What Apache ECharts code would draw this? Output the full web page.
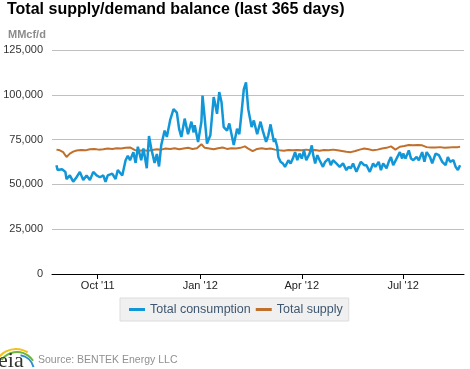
<!DOCTYPE html>
<html>
<head>
<meta charset="utf-8">
<script src="https://cdn.jsdelivr.net/npm/echarts@6/dist/echarts.min.js"></script>
<style>html,body{margin:0;padding:0;background:#fff}#c{width:470px;height:369px}</style>
</head>
<body>
<div id="c"></div>
<script>
const consDates = ['2011-08-25','2011-08-26','2011-08-30','2011-09-02','2011-09-03','2011-09-06','2011-09-09','2011-09-12','2011-09-15','2011-09-18','2011-09-21','2011-09-24','2011-09-27','2011-09-30','2011-10-03','2011-10-06','2011-10-08','2011-10-10','2011-10-14','2011-10-17','2011-10-19','2011-10-23','2011-10-26','2011-10-28','2011-10-30','2011-11-02','2011-11-04','2011-11-06','2011-11-09','2011-11-11','2011-11-14','2011-11-16','2011-11-18','2011-11-21','2011-11-23','2011-11-25','2011-11-27','2011-11-30','2011-12-02','2011-12-05','2011-12-08','2011-12-11','2011-12-13','2011-12-15','2011-12-18','2011-12-21','2011-12-24','2011-12-26','2011-12-27','2011-12-30','2012-01-02','2012-01-03','2012-01-05','2012-01-07','2012-01-10','2012-01-13','2012-01-14','2012-01-16','2012-01-18','2012-01-20','2012-01-22','2012-01-25','2012-01-27','2012-01-29','2012-01-31','2012-02-03','2012-02-05','2012-02-07','2012-02-09','2012-02-11','2012-02-13','2012-02-16','2012-02-18','2012-02-21','2012-02-24','2012-02-26','2012-02-29','2012-03-02','2012-03-04','2012-03-07','2012-03-08','2012-03-10','2012-03-11','2012-03-13','2012-03-15','2012-03-17','2012-03-20','2012-03-22','2012-03-24','2012-03-26','2012-03-28','2012-03-30','2012-04-01','2012-04-03','2012-04-05','2012-04-08','2012-04-10','2012-04-11','2012-04-13','2012-04-15','2012-04-17','2012-04-20','2012-04-22','2012-04-25','2012-04-27','2012-04-29','2012-05-02','2012-05-05','2012-05-08','2012-05-11','2012-05-13','2012-05-15','2012-05-17','2012-05-20','2012-05-22','2012-05-24','2012-05-27','2012-05-29','2012-06-01','2012-06-04','2012-06-06','2012-06-09','2012-06-11','2012-06-13','2012-06-16','2012-06-18','2012-06-20','2012-06-22','2012-06-25','2012-06-28','2012-06-30','2012-07-01','2012-07-03','2012-07-06','2012-07-08','2012-07-10','2012-07-13','2012-07-15','2012-07-18','2012-07-20','2012-07-22','2012-07-25','2012-07-27','2012-07-30','2012-08-02','2012-08-05','2012-08-08','2012-08-10','2012-08-12','2012-08-15','2012-08-17','2012-08-19','2012-08-21'];
const consValues = [60700,58000,58500,57000,53000,55000,51500,54000,57000,52400,55000,52400,57000,55000,54000,55000,51500,55000,56000,53000,58000,55000,63500,66000,63500,68000,62000,71000,63500,70000,59000,77000,70000,62000,67000,60000,72000,80000,76500,86000,92000,90000,81000,76500,86700,78000,85000,79000,83000,73700,85000,99600,86700,72800,77400,98700,96000,89400,101500,96000,82000,80000,84000,78000,72000,81000,78000,90000,103000,107000,92000,82000,85700,78000,85000,80000,73700,77400,83500,73700,75500,71000,65300,62600,61700,59800,63500,61700,64400,68000,63500,67200,64400,69000,63500,67200,71800,67200,61700,66300,63500,59800,62600,64400,60700,63500,61700,59800,61700,58000,59800,59000,61700,57000,59800,62600,60700,60700,57000,61700,59800,62600,58000,61700,59000,62600,65300,60700,64400,68000,64400,67200,64400,69000,64400,63500,65300,63500,68000,62600,68000,65300,61700,67200,66300,62600,60700,65300,62600,63500,59800,58000,60700];

const supplyDates = ['2011-08-25','2011-08-28','2011-08-31','2011-09-03','2011-09-06','2011-09-09','2011-09-12','2011-09-16','2011-09-20','2011-09-24','2011-09-28','2011-10-02','2011-10-06','2011-10-10','2011-10-14','2011-10-18','2011-10-22','2011-10-26','2011-10-30','2011-11-03','2011-11-07','2011-11-11','2011-11-15','2011-11-19','2011-11-23','2011-11-27','2011-12-01','2011-12-05','2011-12-09','2011-12-13','2011-12-17','2011-12-21','2011-12-25','2011-12-29','2012-01-02','2012-01-05','2012-01-09','2012-01-13','2012-01-17','2012-01-21','2012-01-25','2012-01-29','2012-02-02','2012-02-06','2012-02-10','2012-02-13','2012-02-17','2012-02-21','2012-02-25','2012-02-29','2012-03-04','2012-03-08','2012-03-12','2012-03-16','2012-03-20','2012-03-24','2012-03-28','2012-04-01','2012-04-05','2012-04-09','2012-04-13','2012-04-17','2012-04-21','2012-04-25','2012-04-29','2012-05-03','2012-05-07','2012-05-11','2012-05-15','2012-05-19','2012-05-23','2012-05-27','2012-05-31','2012-06-04','2012-06-08','2012-06-12','2012-06-16','2012-06-20','2012-06-24','2012-06-28','2012-07-02','2012-07-06','2012-07-10','2012-07-14','2012-07-18','2012-07-22','2012-07-26','2012-07-30','2012-08-03','2012-08-07','2012-08-11','2012-08-15','2012-08-19','2012-08-21'];
const supplyValues = [69400,69000,68000,65300,67200,68300,68900,69200,69000,69600,69800,69400,69600,70000,69800,70200,70000,70400,70600,69200,68800,69000,68800,69200,69600,69400,70000,69800,70200,69600,70000,70400,69800,70200,72400,70400,70000,69600,70200,70600,69800,70200,70000,70400,71200,70000,68600,69800,70200,69800,70000,69400,69000,68800,69200,69000,69200,69000,69400,69000,69200,68800,69200,69000,69400,69000,68600,68200,68000,68600,69400,70000,69600,69000,69400,70000,70400,71200,69400,71000,71400,72000,71800,72000,71800,70800,70600,70600,70800,70400,70600,70800,70800,71000];

const xTickDates = ['2011-10-01','2012-01-01','2012-04-01','2012-07-01'];
const xTickLabels = ["Oct '11","Jan '12","Apr '12","Jul '12"];
const yTicks = [0,25000,50000,75000,100000,125000];
const seriesNames = ['Total consumption','Total supply'];

function ts(s){const p=s.split('-').map(Number);return new Date(p[0],p[1]-1,p[2],p[3]||0).getTime();}
const tickTs = xTickDates.map(s=>ts(s));

const chart = echarts.init(document.getElementById('c'), null, {renderer:'canvas'});
const font = '"Liberation Sans", Arial, sans-serif';
chart.setOption({
  animation:false,
  backgroundColor:'#fff',
  textStyle:{fontFamily:font},
  title:[
    {text:'Total supply/demand balance (last 365 days)',left:7,top:2,padding:0,
     textStyle:{fontSize:16,fontWeight:'bold',color:'#000',fontFamily:font}},
    {text:'MMcf/d',left:8,top:29,padding:0,
     textStyle:{fontSize:11,fontWeight:'bold',color:'#8c8c8c',fontFamily:font}}
  ],
  grid:{left:52,right:6,top:50,bottom:95,containLabel:false},
  legend:{
    left:120,top:298,
    data:seriesNames,
    icon:'rect',itemWidth:16,itemHeight:3,itemGap:5,
    backgroundColor:'#f0f0f0',borderColor:'#dcdcdc',borderWidth:1,borderRadius:0,
    padding:[5,6,5,9],
    textStyle:{fontSize:12.5,color:'#3e576f',fontFamily:font}
  },
  xAxis:{
    type:'value',
    min:ts('2011-08-21'),max:ts('2012-08-24-12'),
    splitLine:{show:false},
    axisLine:{lineStyle:{color:'#000',width:1}},
    axisTick:{show:true,length:5,lineStyle:{color:'#000'},customValues:tickTs},
    axisLabel:{customValues:tickTs,margin:6,fontSize:11,color:'#222',fontFamily:font,
      formatter:function(v){const i=tickTs.indexOf(v);return i>=0?xTickLabels[i]:'';}}
  },
  yAxis:{
    type:'value',min:yTicks[0],max:yTicks[yTicks.length-1],interval:25000,
    axisLine:{show:false},axisTick:{show:false},
    splitLine:{lineStyle:{color:'#c0c0c0',width:1}},
    axisLabel:{fontSize:11,color:'#333',margin:9,fontFamily:font,
      formatter:function(v){return v.toLocaleString('en-US');}}
  },
  series:[
    {name:seriesNames[0],type:'line',showSymbol:false,symbol:'none',
     data:consDates.map((d,i)=>[ts(d),consValues[i]]),
     lineStyle:{color:'#1196d8',width:2.5},itemStyle:{color:'#1196d8'},z:3},
    {name:seriesNames[1],type:'line',showSymbol:false,symbol:'none',
     data:supplyDates.map((d,i)=>[ts(d),supplyValues[i]]),
     lineStyle:{color:'#c0702c',width:2},itemStyle:{color:'#c0702c'},z:2}
  ],
  graphic:[
    {type:'arc',shape:{cx:16,cy:371,r:22,startAngle:Math.PI*1.1,endAngle:Math.PI*1.68},style:{stroke:'#f2c21b',lineWidth:2,fill:null}},
    {type:'arc',shape:{cx:17,cy:371,r:19,startAngle:Math.PI*1.2,endAngle:Math.PI*1.82},style:{stroke:'#6cb33f',lineWidth:2,fill:null}},
    {type:'arc',shape:{cx:18,cy:371,r:16,startAngle:Math.PI*1.55,endAngle:Math.PI*1.92},style:{stroke:'#2a8fcf',lineWidth:2,fill:null}},
    {type:'text',left:-2,top:350,style:{text:'eia',font:'22px "Liberation Serif", "DejaVu Serif", serif',fill:'#333'}},
    {type:'text',left:38,top:355,style:{text:'Source: BENTEK Energy LLC',font:'10.5px "Liberation Sans", Arial, sans-serif',fill:'#909090'}}
  ]
});
</script>
</body>
</html>
